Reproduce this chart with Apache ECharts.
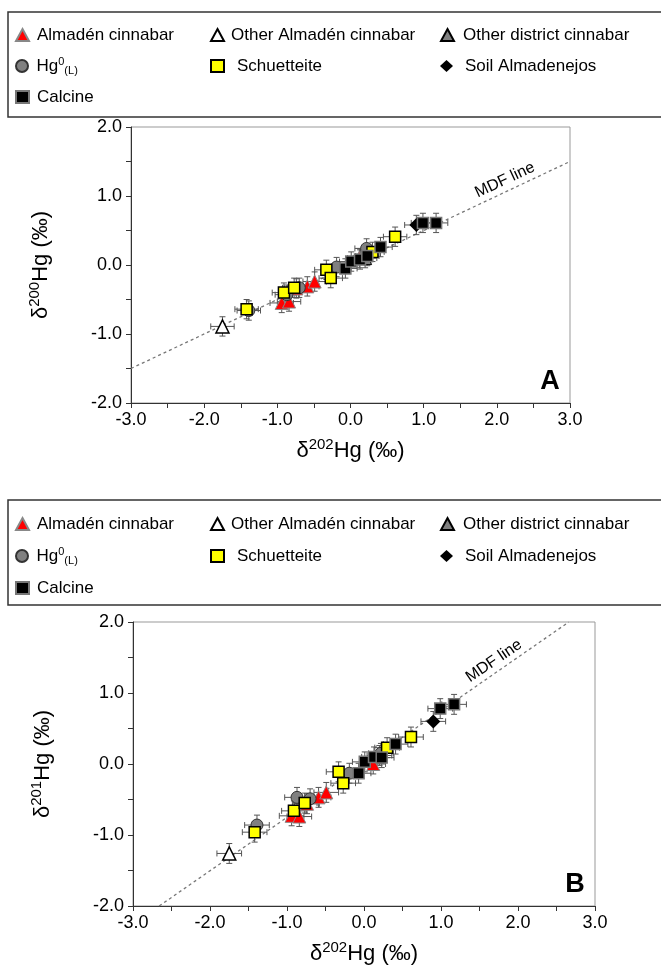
<!DOCTYPE html>
<html><head><meta charset="utf-8">
<script src="https://cdn.jsdelivr.net/npm/echarts@6/dist/echarts.min.js"></script>
<style>html,body{margin:0;padding:0;background:#fff}#c{width:661px;height:966px}</style>
</head><body><div id="c"></div>
<script>
// ---------------- DATA ----------------
const names = ['Almadén cinnabar','Other Almadén cinnabar','Other district cinnabar','Hg0(L)','Schuetteite','Soil Almadenejos','Calcine'];
// δ202Hg (x), δ200Hg (panel A), δ201Hg (panel B)
const almadenX = [-0.94,-0.84,-0.74,-0.59,-0.49,0.12];
const almadenA = [-0.55,-0.53,-0.34,-0.31,-0.24,0.10];
const almadenB = [-0.73,-0.74,-0.56,-0.47,-0.40,0.00];
const otherAlmX = [-1.75];
const otherAlmA = [-0.89];
const otherAlmB = [-1.26];
const otherDistX = [0.20];
const otherDistA = [0.10];
const otherDistB = [0.12];
const hgX = [-1.39,-0.87,-0.70,-0.19,0.22];
const hgA = [-0.66,-0.43,-0.33,-0.03,0.24];
const hgB = [-0.86,-0.47,-0.49,-0.13,0.15];
const schX = [-1.42,-0.91,-0.77,-0.33,-0.27,0.30,0.61];
const schA = [-0.64,-0.40,-0.33,-0.07,-0.19,0.19,0.41];
const schB = [-0.96,-0.66,-0.55,-0.11,-0.27,0.23,0.38];
const soilX = [0.90];
const soilA = [0.58];
const soilB = [0.60];
const calX = [-0.07,0.01,0.13,0.23,0.41,0.99,1.17];
const calA = [-0.05,0.05,0.08,0.13,0.26,0.61,0.61];
const calB = [-0.13,0.03,0.10,0.09,0.28,0.78,0.84];
// uncertainty (2SD)
const xErr = 0.16;
const yErrA = 0.14;
const yErrB = 0.14;
// MDF lines
const mdfAX = [-3, 3];
const mdfAY = [-1.5, 1.5];
const mdfBX = [-2.66, 2.66];
const mdfBY = [-2, 2];
// ticks
const xMin = -3, xMax = 3, yMin = -2, yMax = 2, tickStep = 0.5;

// ---------------- CHART ----------------
const FONT = '"Liberation Sans", Arial, Helvetica, sans-serif';
const zip = (xs, ys) => xs.map((x, i) => [x, ys[i]]);

const groups = [
  {name: names[0], x: almadenX, a: almadenA, b: almadenB, symbol: 'triangle', size: 13,
   style: {color: '#ff0000', borderColor: '#888', borderWidth: 1}},
  {name: names[1], x: otherAlmX, a: otherAlmA, b: otherAlmB, symbol: 'triangle', size: 13,
   style: {color: '#ffffff', borderColor: '#000', borderWidth: 1.5}},
  {name: names[2], x: otherDistX, a: otherDistA, b: otherDistB, symbol: 'triangle', size: 13,
   style: {color: '#808080', borderColor: '#000', borderWidth: 1}},
  {name: names[3], x: hgX, a: hgA, b: hgB, symbol: 'circle', size: 12,
   style: {color: '#808080', borderColor: '#333', borderWidth: 1}},
  {name: names[4], x: schX, a: schA, b: schB, symbol: 'rect', size: 11,
   style: {color: '#ffff00', borderColor: '#000', borderWidth: 1.5}},
  {name: names[5], x: soilX, a: soilA, b: soilB, symbol: 'diamond', size: 14,
   style: {color: '#000000', borderColor: '#000', borderWidth: 0}},
  {name: names[6], x: calX, a: calA, b: calB, symbol: 'rect', size: 11,
   style: {color: '#000000', borderColor: '#777', borderWidth: 1.5}}
];

function errRender(params, api) {
  const x = api.value(0), y = api.value(1), xe = api.value(2), ye = api.value(3);
  const l = api.coord([x - xe, y]), r = api.coord([x + xe, y]);
  const t = api.coord([x, y + ye]), b = api.coord([x, y - ye]);
  const c = 3;
  const st = {stroke: '#555', lineWidth: 1, fill: null};
  const ln = (x1, y1, x2, y2) => ({type: 'line', shape: {x1, y1, x2, y2}, style: st});
  return {type: 'group', children: [
    ln(l[0], l[1], r[0], r[1]), ln(l[0], l[1] - c, l[0], l[1] + c), ln(r[0], r[1] - c, r[0], r[1] + c),
    ln(t[0], t[1], b[0], b[1]), ln(t[0] - c, t[1], t[0] + c, t[1]), ln(b[0] - c, b[1], b[0] + c, b[1])
  ]};
}

const series = [];
[0, 1].forEach(gi => {
  const key = gi === 0 ? 'a' : 'b';
  const ye = gi === 0 ? yErrA : yErrB;
  const mx = gi === 0 ? mdfAX : mdfBX, my = gi === 0 ? mdfAY : mdfBY;
  series.push({
    type: 'line', xAxisIndex: gi, yAxisIndex: gi, data: zip(mx, my), symbol: 'none', silent: true,
    lineStyle: {color: '#777', width: 1.3, type: [3, 3]}, z: 1
  });
  const errData = [];
  groups.forEach(g => g.x.forEach((x, i) => errData.push([x, g[key][i], xErr, ye])));
  series.push({type: 'custom', xAxisIndex: gi, yAxisIndex: gi, renderItem: errRender, data: errData, z: 2, silent: true});
  groups.forEach(g => {
    series.push({
      type: 'scatter', name: g.name, xAxisIndex: gi, yAxisIndex: gi,
      data: zip(g.x, g[key]), symbol: g.symbol, symbolSize: g.size,
      itemStyle: Object.assign({opacity: 1}, g.style), z: 3
    });
  });
});

const nameRich = {
  d: {fontSize: 22, lineHeight: 28, fontFamily: FONT, color: '#000'},
  s: {fontSize: 15, lineHeight: 16, verticalAlign: 'top', fontFamily: FONT, color: '#000'},
  h: {fontSize: 22, lineHeight: 28, fontFamily: FONT, color: '#000'}
};
const labelFmt = v => Math.abs(v - Math.round(v)) < 1e-9 ? v.toFixed(1) : '';
function xAxis(gi, nameSup) {
  return {
    type: 'value', gridIndex: gi, min: xMin, max: xMax, interval: tickStep,
    axisLine: {show: true, onZero: false, lineStyle: {color: '#333', width: 1}},
    axisTick: {show: true, inside: false, length: 5, lineStyle: {color: '#333'}},
    axisLabel: {formatter: labelFmt, fontSize: 18, color: '#000', margin: 8, fontFamily: FONT},
    splitLine: {show: false},
    name: '{d|δ}{s|' + nameSup + '}{h|Hg (‰)}', nameLocation: 'middle', nameGap: 34,
    nameTextStyle: {fontFamily: FONT, rich: nameRich}
  };
}
function yAxis(gi, nameSup) {
  return {
    type: 'value', gridIndex: gi, min: yMin, max: yMax, interval: tickStep,
    axisLine: {show: true, onZero: false, lineStyle: {color: '#333', width: 1}},
    axisTick: {show: true, inside: false, length: 5, lineStyle: {color: '#333'}},
    axisLabel: {formatter: labelFmt, fontSize: 18, color: '#000', margin: 9, fontFamily: FONT},
    splitLine: {show: false},
    name: '{d|δ}{s|' + nameSup + '}{h|Hg (‰)}', nameLocation: 'middle', nameGap: 76, nameRotate: 90,
    nameTextStyle: {fontFamily: FONT, rich: nameRich}
  };
}

// legend layout: [name index, left, row, textPad]
const legendCells = [
  [0, 15, 0, 3], [3, 15, 1, 3], [6, 15, 2, 3],
  [1, 210, 0, 2], [4, 210, 1, 8],
  [2, 440, 0, 4], [5, 440, 1, 7]
];
const rowsA = [35, 66, 97], rowsB = [524, 556, 588];
const legends = [];
[rowsA, rowsB].forEach(rows => {
  legendCells.forEach(([ni, left, row, pad]) => {
    legends.push({
      data: [names[ni]], left: left, top: rows[row] - 10, padding: 0,
      itemWidth: 13, itemHeight: 12, selectedMode: false,
      formatter: n => n === 'Hg0(L)' ? '{n|Hg}{sup|0}{sub|(L)}' : n,
      textStyle: {fontSize: 17, color: '#000', fontFamily: FONT, lineHeight: 20, padding: [0, 0, 0, pad],
        rich: {
          n: {fontSize: 17, lineHeight: 20, fontFamily: FONT, color: '#000'},
          sup: {fontSize: 11, lineHeight: 12, verticalAlign: 'top', fontFamily: FONT, color: '#000'},
          sub: {fontSize: 11, lineHeight: 12, verticalAlign: 'bottom', fontFamily: FONT, color: '#000'}
        }}
    });
  });
});

const option = {
  animation: false,
  backgroundColor: '#fff',
  grid: [
    {left: 131, top: 127, width: 439, height: 276, show: true, borderColor: '#999', borderWidth: 1},
    {left: 133, top: 622, width: 462, height: 284, show: true, borderColor: '#999', borderWidth: 1}
  ],
  xAxis: [xAxis(0, '202'), xAxis(1, '202')],
  yAxis: [yAxis(0, '200'), yAxis(1, '201')],
  legend: legends,
  series: series,
  graphic: [
    {type: 'rect', shape: {x: 8, y: 12, width: 700, height: 105}, style: {fill: 'none', stroke: '#333', lineWidth: 1.5}, z: 0},
    {type: 'rect', shape: {x: 8, y: 500, width: 700, height: 105}, style: {fill: 'none', stroke: '#333', lineWidth: 1.5}, z: 0},
    {type: 'text', x: 505, y: 180, rotation: 25 * Math.PI / 180,
     style: {text: 'MDF line', fontSize: 16, fontFamily: FONT, fill: '#000', align: 'center', verticalAlign: 'middle'}},
    {type: 'text', x: 494, y: 661, rotation: 34 * Math.PI / 180,
     style: {text: 'MDF line', fontSize: 16, fontFamily: FONT, fill: '#000', align: 'center', verticalAlign: 'middle'}},
    {type: 'text', x: 550, y: 382,
     style: {text: 'A', fontSize: 27, fontWeight: 'bold', fontFamily: FONT, fill: '#000', align: 'center', verticalAlign: 'middle'}},
    {type: 'text', x: 575, y: 885,
     style: {text: 'B', fontSize: 27, fontWeight: 'bold', fontFamily: FONT, fill: '#000', align: 'center', verticalAlign: 'middle'}}
  ]
};
const chart = echarts.init(document.getElementById('c'), null, {renderer: 'canvas'});
chart.setOption(option);
</script>
</body></html>
